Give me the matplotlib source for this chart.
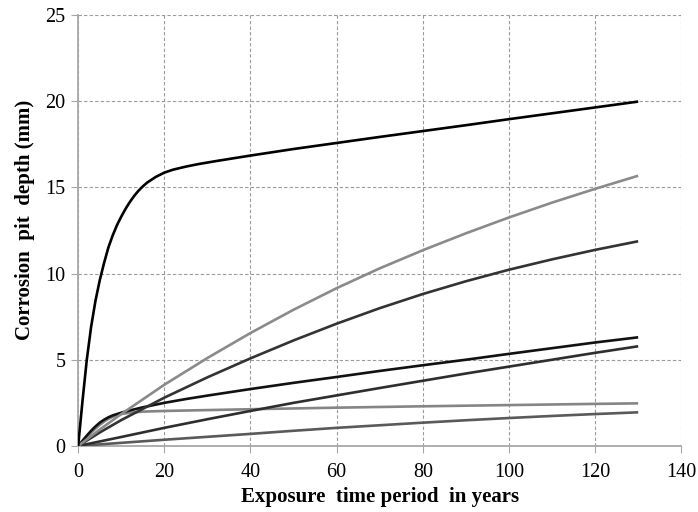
import matplotlib
matplotlib.use("Agg")
import matplotlib.pyplot as plt

# exposure years and pit depths (mm), one array per curve
t_c1 = [0, 1, 2, 3, 4, 5, 6, 7, 8, 9, 10, 11, 12, 13, 14, 15, 16, 18, 20, 22, 25, 28, 32, 36,
        40, 50, 60, 70, 80, 90, 100, 110, 120, 130]
d_c1 = [0, 2.6, 5.0, 6.9, 8.4, 9.6, 10.6, 11.5, 12.2, 12.8, 13.3, 13.75, 14.15, 14.5, 14.8, 15.05,
        15.27, 15.6, 15.85, 16.02, 16.2, 16.35, 16.52, 16.68,
        16.84, 17.22, 17.57, 17.92, 18.26, 18.6, 18.95, 19.29, 19.63, 19.97]

t_c2 = [0, 5, 10, 20, 30, 40, 50, 60, 70, 80, 90, 100, 110, 120, 130]
d_c2 = [0, 0.95, 1.85, 3.55, 5.1, 6.55, 7.9, 9.15, 10.3, 11.35, 12.33, 13.25, 14.11, 14.91, 15.67]

t_c3 = [0, 5, 10, 20, 30, 40, 50, 60, 70, 80, 90, 100, 110, 120, 130]
d_c3 = [0, 0.78, 1.5, 2.8, 3.98, 5.08, 6.12, 7.09, 7.99, 8.81, 9.55, 10.22, 10.82, 11.37, 11.87]

t_c4 = [0, 1, 2, 3, 4, 5, 6, 7, 8, 10, 12, 15, 20, 25, 30, 40, 50, 60, 70, 80, 90, 100, 110, 120, 130]
d_c4 = [0, 0.3, 0.6, 0.88, 1.13, 1.35, 1.52, 1.66, 1.77, 1.93, 2.06, 2.24, 2.5, 2.72, 2.92, 3.3,
        3.66, 4.0, 4.35, 4.68, 5.0, 5.34, 5.67, 6.0, 6.3]

t_c5 = [0, 10, 20, 30, 40, 50, 60, 70, 80, 90, 100, 110, 120, 130]
d_c5 = [0, 0.52, 1.05, 1.55, 2.03, 2.5, 2.93, 3.36, 3.78, 4.2, 4.6, 5.0, 5.4, 5.78]

t_c6 = [0, 1, 2, 3, 4, 5, 6, 7, 8, 9, 10, 12, 15, 20, 40, 60, 80, 100, 120, 130]
d_c6 = [0, 0.26, 0.52, 0.77, 1.0, 1.22, 1.41, 1.57, 1.69, 1.78, 1.85, 1.93, 1.99, 2.03, 2.13,
        2.22, 2.3, 2.37, 2.44, 2.47]

t_c7 = [0, 10, 20, 30, 40, 50, 60, 70, 80, 90, 100, 110, 120, 130]
d_c7 = [0, 0.18, 0.36, 0.53, 0.7, 0.88, 1.05, 1.2, 1.35, 1.49, 1.62, 1.74, 1.85, 1.95]

curves = [
    (t_c7, d_c7, "#5a5a5a"),
    (t_c6, d_c6, "#858585"),
    (t_c5, d_c5, "#2e2e2e"),
    (t_c4, d_c4, "#111111"),
    (t_c3, d_c3, "#333333"),
    (t_c2, d_c2, "#8a8a8a"),
    (t_c1, d_c1, "#000000"),
]

plt.rcParams["font.family"] = ["Liberation Serif", "DejaVu Serif"]

fig = plt.figure(figsize=(6.98, 5.12), dpi=100)
ax = fig.add_axes([0.112, 0.129, 0.864, 0.842])

for t, d, c in curves:
    ax.plot(t, d, color=c, lw=1.9, solid_capstyle="butt", solid_joinstyle="round", zorder=3)

ax.set_xlim(0, 140)
ax.set_ylim(0, 25)
ax.set_xticks(range(0, 141, 20))
ax.set_yticks(range(0, 26, 5))
ax.grid(True, color="#9a9a9a", ls=(0, (3, 2)), lw=0.8, zorder=0)
ax.set_axisbelow(True)

for s in ["top", "right"]:
    ax.spines[s].set_visible(False)
for s in ["left", "bottom"]:
    ax.spines[s].set_color("#a8a8a8")
    ax.spines[s].set_linewidth(1.3)

ax.tick_params(direction="out", length=5, width=0.8, color="#a8a8a8",
               labelsize=14.5)
ax.tick_params(axis="x", pad=7)
ax.tick_params(axis="y", pad=4)
ax.set_xlabel("Exposure  time period  in years", fontsize=15, fontweight="bold", labelpad=4)
ax.set_ylabel("Corrosion  pit  depth (mm)", fontsize=15, fontweight="bold", labelpad=5)
ax.yaxis.set_label_coords(-0.072, 0.525)

fig.savefig("out.png", dpi=100)
